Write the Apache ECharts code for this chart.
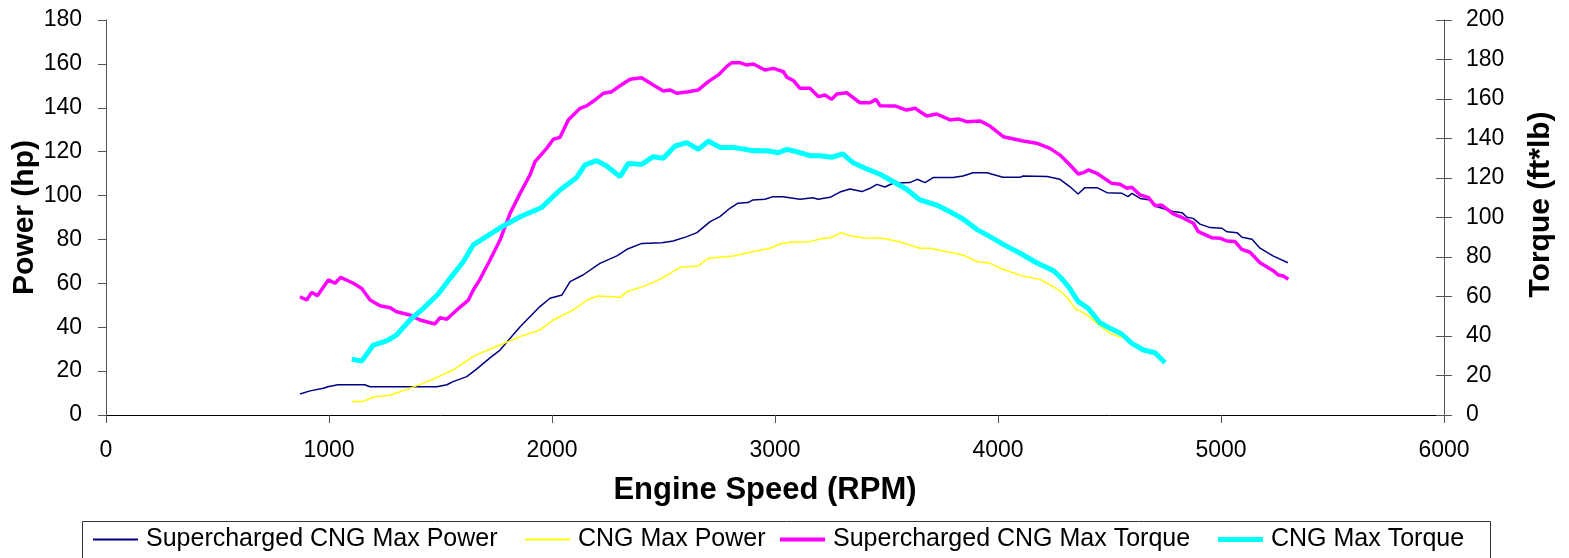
<!DOCTYPE html>
<html>
<head>
<meta charset="utf-8">
<script src="https://cdn.jsdelivr.net/npm/echarts@6/dist/echarts.min.js"></script>
<style>
html,body{margin:0;padding:0;background:#fff;}
#chart{width:1569px;height:558px;}
</style>
</head>
<body>
<div id="chart"></div>
<script>
// ---- Data ----
const seriesNames = ['Supercharged CNG Max Power', 'CNG Max Power', 'Supercharged CNG Max Torque', 'CNG Max Torque'];

const scPowerRpm = [870,915,975,995,1040,1160,1184,1484,1529,1556,1618,1663,1722,1767,1857,1946,1991,2045,2081,2139,2215,2291,2336,2403,2493,2543,2605,2650,2709,2753,2798,2834,2879,2901,2955,2991,3036,3112,3170,3193,3247,3291,3336,3390,3426,3457,3493,3529,3605,3637,3673,3709,3798,3843,3888,3951,4022,4099,4112,4220,4278,4323,4359,4390,4444,4489,4556,4583,4601,4637,4682,4713,4785,4825,4848,4875,4906,4951,5004,5027,5072,5094,5139,5175,5233,5300];
const scPowerHp = [9.6,11,12.2,12.9,13.8,13.8,12.9,12.9,13.8,15.2,17.5,21,26,29.6,40.2,49.4,53.2,54.7,60.8,63.8,69.1,72.5,75.5,78.2,78.5,79.3,81.3,83.1,88.1,90.4,94.2,96.5,96.8,98,98.3,99.5,99.5,98.3,99,98.3,99.2,101.6,103,101.8,103.3,105.1,103.9,105.6,105.9,107.4,105.9,108.2,108.2,108.9,110.4,110.4,108.3,108.3,108.9,108.7,107.4,104,100.7,103.6,103.6,101.3,101,99.5,101,98.7,98,94.9,92.7,92.2,90.1,89.6,87,85.4,85.1,83.5,83.1,81,80.1,76,72.5,69.4];

const cngPowerRpm = [1102,1146,1206,1273,1332,1422,1498,1556,1646,1677,1767,1857,1946,2005,2094,2157,2202,2274,2305,2336,2408,2484,2574,2655,2700,2812,2901,2978,3022,3067,3157,3202,3256,3296,3336,3395,3484,3561,3650,3695,3771,3843,3906,3964,4022,4112,4188,4247,4278,4314,4345,4399,4448,4502,4556];
const cngPowerHp = [6.1,6.1,8.3,9,11.1,14.4,17.8,20.5,26.6,28.1,31.9,35.7,38.7,43.3,47.8,52.4,54.2,53.9,53.5,56.2,58.5,61.8,67.3,67.9,71.4,72.5,74.4,76,77.9,78.7,79,80.2,81,83.1,81.7,80.8,80.5,78.8,76,76,74.4,72.9,69.9,69.1,66.4,63.3,61.8,58.5,56.6,53.2,48.6,45.6,41.5,37.2,35.2];

const scTorqueRpm = [870,900,922,948,997,1027,1052,1109,1147,1184,1229,1274,1303,1363,1408,1475,1498,1528,1573,1625,1647,1677,1722,1767,1812,1857,1901,1924,1976,2006,2036,2073,2126,2155,2193,2230,2268,2305,2350,2402,2454,2499,2529,2559,2612,2656,2701,2746,2783,2806,2843,2873,2903,2955,2993,3038,3053,3083,3112,3157,3195,3224,3254,3277,3321,3381,3426,3453,3471,3538,3590,3628,3680,3725,3785,3822,3859,3919,3964,4024,4113,4173,4233,4278,4323,4360,4383,4405,4443,4510,4547,4578,4600,4637,4674,4704,4734,4786,4824,4876,4898,4958,4996,5026,5063,5093,5130,5175,5234,5257,5279,5302];
const scTorqueFtLb = [59.9,58.2,62.1,60.4,68.4,66.7,69.7,66.7,64.1,58.2,55.3,54.3,52.3,50.6,48.1,46.1,49.3,48.5,53.2,58.2,63.3,68.7,78.5,88.6,102.1,112.2,121.5,128.3,135,139.6,140.6,149.4,155.3,156.5,159.5,162.9,163.7,166.7,170,170.8,167.1,164.1,164.6,162.9,163.7,164.6,168.8,172.2,176.4,178.4,178.4,177.2,177.7,174.7,175.5,173.8,171,169.3,165.4,165.4,161.2,162,159.8,162.5,163.2,158.1,158.1,159.8,156.6,156.5,154.4,155.3,151.4,152.4,149.4,149.9,148.5,148.9,146.3,140.9,138.7,137.6,135,131.6,126.6,122,122.7,124.1,122.4,117.3,116.8,114.8,115.3,111.4,110.2,106,106.3,101.8,100.1,97.1,92.8,89.8,89.5,88.1,87.8,83.9,82.4,77.1,73.1,70.9,70.4,68.7];

const cngTorqueRpm = [1102,1147,1199,1259,1303,1363,1423,1490,1543,1602,1647,1677,1767,1857,1954,2036,2111,2148,2200,2245,2305,2342,2402,2454,2499,2552,2604,2656,2701,2753,2813,2903,2963,3015,3053,3097,3157,3202,3254,3304,3351,3411,3471,3531,3590,3650,3725,3785,3845,3904,3964,4024,4099,4173,4248,4278,4316,4360,4405,4457,4502,4555,4600,4652,4704,4749];
const cngTorqueFtLb = [28.2,27.3,35.4,37.5,40.5,48.1,54,61.3,69.2,77.6,86.1,88.3,94.8,100.4,105.1,113.9,120.3,126.6,128.8,126.1,120.7,127.4,126.9,130.8,130,136.2,137.9,134.5,138.7,135.5,135.5,133.8,133.8,132.8,134.5,133.3,131.3,131.3,130.5,132.2,127.7,124.6,121.9,118.1,114.3,108.9,106.3,102.9,99.1,94,90.3,86.4,81.9,77.1,73.1,70,65,57.4,54,46.7,43.9,41,36.3,32.9,31.5,26.5];

// ---- Axis settings ----
const xMin = 0, xMax = 6000, xStep = 1000;
const powerMin = 0, powerMax = 180, powerStep = 20;
const torqueMin = 0, torqueMax = 200, torqueStep = 20;

function pairs(xs, ys){ return xs.map((x,i)=>[x, ys[i]]); }
const plain = v => String(v);

const FONT = "'Liberation Sans', Arial, sans-serif";
const chart = echarts.init(document.getElementById('chart'), null, {renderer:'canvas'});

const seriesColors = ['#000080', '#FFFF00', '#FF00FF', '#00FFFF'];
const seriesWidths = [1.5, 1.5, 3.5, 5];
const legendLefts = [93, 525, 780, 1218];
const legendIconH = [2, 2, 4, 5];

chart.setOption({
  animation: false,
  backgroundColor: '#fff',
  textStyle: {fontFamily: FONT, color: '#000'},
  grid: {left: 106, right: 125, top: 20, bottom: 143, containLabel: false, outerBoundsMode: 'none'},
  graphic: [{
    type: 'rect', left: 82, top: 521, z: -1,
    shape: {width: 1408, height: 50},
    style: {fill: '#fff', stroke: '#333', lineWidth: 1}
  }],
  legend: seriesNames.map((n, i) => ({
    data: [{name: n, icon: 'rect'}], left: legendLefts[i], top: 527, padding: 0,
    itemWidth: 45, itemHeight: legendIconH[i], itemGap: 0,
    itemStyle: {color: seriesColors[i], borderWidth: 0},
    textStyle: {fontFamily: FONT, fontSize: 25, color: '#000', padding: [0, 0, 0, 3]},
    selectedMode: false
  })),
  xAxis: {
    type: 'value', min: xMin, max: xMax, interval: xStep,
    name: 'Engine Speed (RPM)', nameLocation: 'middle', nameGap: 60, nameMoveOverlap: false,
    nameTextStyle: {fontFamily: FONT, fontSize: 31, fontWeight: 'bold', color: '#000', padding: [0, 20, 0, 0]},
    axisLine: {show: true, lineStyle: {color: '#000', width: 1}},
    axisTick: {show: true, length: 8, lineStyle: {color: '#555'}},
    axisLabel: {fontFamily: FONT, fontSize: 23, color: '#000', margin: 24, formatter: plain},
    splitLine: {show: false}
  },
  yAxis: [{
    type: 'value', position: 'left', min: powerMin, max: powerMax, interval: powerStep,
    name: 'Power (hp)', nameLocation: 'middle', nameGap: 66, nameRotate: 90, nameMoveOverlap: false,
    nameTextStyle: {fontFamily: FONT, fontSize: 30, fontWeight: 'bold', color: '#000'},
    axisLine: {show: true, lineStyle: {color: '#555', width: 1}},
    axisTick: {show: true, length: 8, lineStyle: {color: '#555'}},
    axisLabel: {fontFamily: FONT, fontSize: 23, color: '#000', margin: 24, formatter: plain},
    splitLine: {show: false}
  }, {
    type: 'value', position: 'right', min: torqueMin, max: torqueMax, interval: torqueStep,
    name: 'Torque (ft*lb)', nameLocation: 'middle', nameGap: 82, nameRotate: 90, nameMoveOverlap: false,
    nameTextStyle: {fontFamily: FONT, fontSize: 30, fontWeight: 'bold', color: '#000', padding: [0, 0, 0, 26]},
    axisLine: {show: true, lineStyle: {color: '#555', width: 1}},
    axisTick: {show: true, length: 8, lineStyle: {color: '#555'}},
    axisLabel: {fontFamily: FONT, fontSize: 23, color: '#000', margin: 22, formatter: plain},
    splitLine: {show: false}
  }, {
    type: 'value', position: 'right', min: torqueMin, max: torqueMax, interval: torqueStep,
    axisLine: {show: false},
    axisTick: {show: true, inside: true, length: 8, lineStyle: {color: '#555'}},
    axisLabel: {show: false},
    splitLine: {show: false}
  }],
  series: seriesNames.map((n, i) => ({
    name: n, type: 'line', yAxisIndex: i < 2 ? 0 : 1, symbol: 'none',
    data: [pairs(scPowerRpm, scPowerHp), pairs(cngPowerRpm, cngPowerHp),
           pairs(scTorqueRpm, scTorqueFtLb), pairs(cngTorqueRpm, cngTorqueFtLb)][i],
    lineStyle: {color: seriesColors[i], width: seriesWidths[i]},
    itemStyle: {color: seriesColors[i]}
  }))
});
</script>
</body>
</html>
